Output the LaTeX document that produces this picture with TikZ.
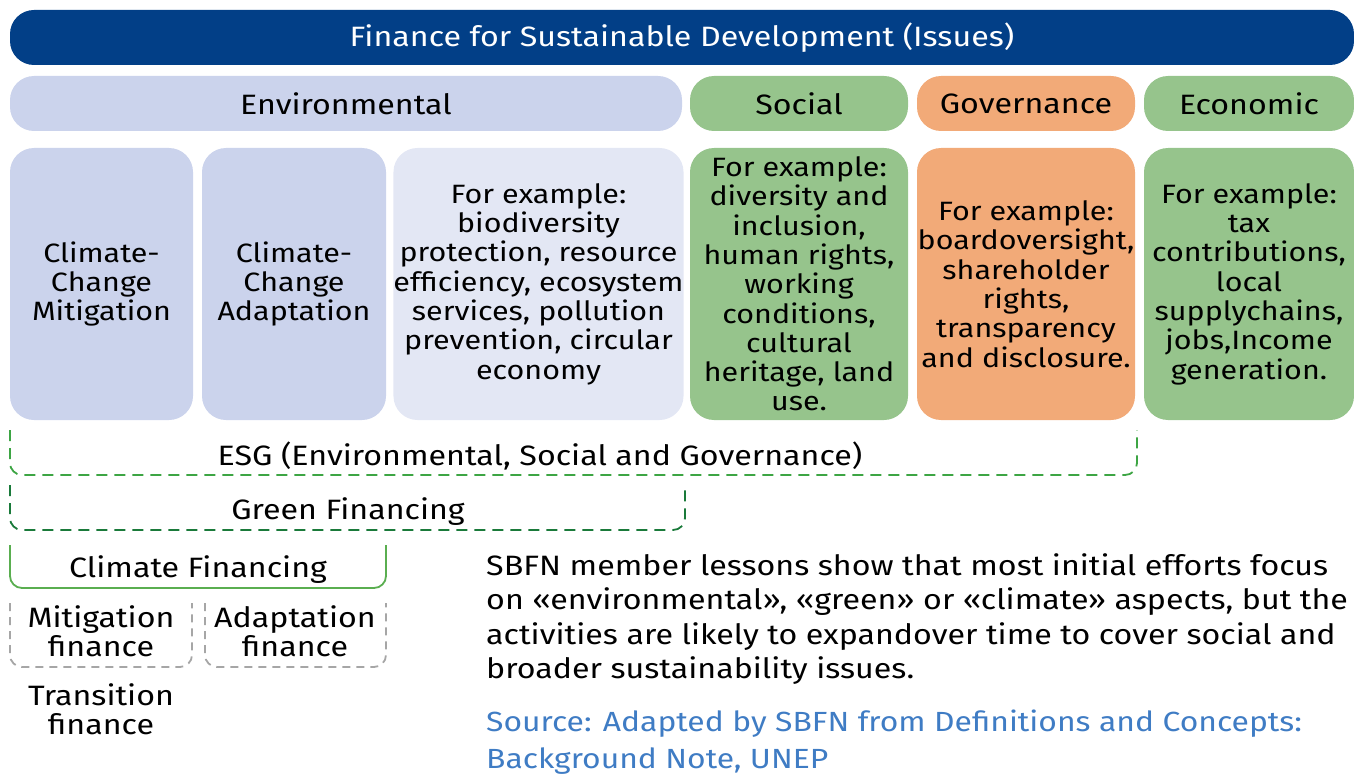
\documentclass[tikz,border=0pt]{standalone}
\usepackage{fontspec}
\setmainfont{Fira Sans}[FakeStretch=1.15]
\definecolor{titleblue}{HTML}{023F87}
\definecolor{envc}{HTML}{CBD3EC}
\definecolor{envlight}{HTML}{E3E7F4}
\definecolor{greenc}{HTML}{96C48C}
\definecolor{orangec}{HTML}{F2AA78}
\definecolor{esgc}{HTML}{3DA544}
\definecolor{gfc}{HTML}{1A7A3A}
\definecolor{cfc}{HTML}{5AAE50}
\definecolor{grayc}{HTML}{A6A6A6}
\definecolor{srcblue}{HTML}{3F7CC4}
\begin{document}
\begin{tikzpicture}[x=1pt,y=-1pt,
  box/.style={rounded corners=24pt, draw=none, inner sep=0pt, align=center, text=black},
  hdr/.style={box, minimum height=55pt, font=\fontsize{28}{30}\selectfont},
  cell/.style={box, minimum height=272pt, font=\fontsize{26.5}{29.3}\selectfont},
  lbl/.style={inner sep=0pt, align=center, font=\fontsize{28}{29.5}\selectfont},
  bracket/.style={rounded corners=12pt, line width=1.8pt},
]
\useasboundingbox (0,0) rectangle (1354,778);
% title
\node[hdr, fill=titleblue, text=white, minimum width=1344pt] (title) at (682,37.5) {Finance for Sustainable Development (Issues)};
% row 2
\node[hdr, fill=envc, minimum width=672pt] (env) at (346,103.5) {Environmental};
\node[hdr, fill=greenc, minimum width=218pt] (soc) at (799,103.5) {Social};
\node[hdr, fill=orangec, minimum width=218pt] (gov) at (1026,103.5) {Governance};
\node[hdr, fill=greenc, minimum width=210pt] (eco) at (1249,103.5) {Economic};
% row 3
\node[cell, fill=envc, minimum width=183pt] (mit) at (101.5,284) {Climate-\\Change\\Mitigation};
\node[cell, fill=envc, minimum width=184pt] (ada) at (294,284) {Climate-\\Change\\Adaptation};
\node[cell, fill=envlight, minimum width=287pt] (envex) at (538.5,284) {For example:\\biodiversity\\protection, resource\\efficiency, ecosystem\\services, pollution\\prevention, circular\\economy};
\node[cell, fill=greenc, minimum width=218pt] (socex) at (799,284) {For example:\\diversity and\\inclusion,\\human rights,\\working\\conditions,\\cultural\\heritage, land\\use.};
\node[cell, fill=orangec, minimum width=218pt] (govex) at (1026,284) {For example:\\boardoversight,\\shareholder\\rights,\\transparency\\and disclosure.};
\node[cell, fill=greenc, minimum width=210pt] (ecoex) at (1249,284) {For example:\\tax\\contributions,\\local\\supplychains,\\jobs,Income\\generation.};
% brackets
\draw[bracket, esgc, dash pattern=on 11pt off 7pt] (10,430) -- (10,475) -- (1137,475) -- (1137,430);
\node[lbl] (esg) at (540,456) {ESG (Environmental, Social and Governance)};
\draw[bracket, gfc, dash pattern=on 11pt off 7pt] (10,485) -- (10,530) -- (685,530) -- (685,485);
\node[lbl] (green) at (348,512) {Green Financing};
\draw[bracket, cfc] (10,545) -- (10,588) -- (386,588) -- (386,545);
\node[lbl] (climate) at (198,570) {Climate Financing};
\draw[bracket, grayc, dash pattern=on 8pt off 6pt] (10,603) -- (10,667) -- (192,667) -- (192,603);
\node[lbl] (mitf) at (101,631) {Mitigation\\finance};
\draw[bracket, grayc, dash pattern=on 8pt off 6pt] (205,603) -- (205,667) -- (386,667) -- (386,603);
\node[lbl] (adaf) at (295,631) {Adaptation\\finance};
\node[lbl] (transf) at (101,709) {Transition\\finance};
% text
\node[inner sep=0pt, align=left, anchor=north west, font=\fontsize{28}{34.5}\selectfont] (note) at (486,553) {SBFN member lessons show that most initial efforts focus\\on «environmental», «green» or «climate» aspects, but the\\activities are likely to expandover time to cover social and\\broader sustainability issues.};
\node[inner sep=0pt, align=left, anchor=north west, text=srcblue, font=\fontsize{27.7}{37}\selectfont] (src) at (486,710) {Source: Adapted by SBFN from Definitions and Concepts:\\Background Note, UNEP};
\end{tikzpicture}
\end{document}
